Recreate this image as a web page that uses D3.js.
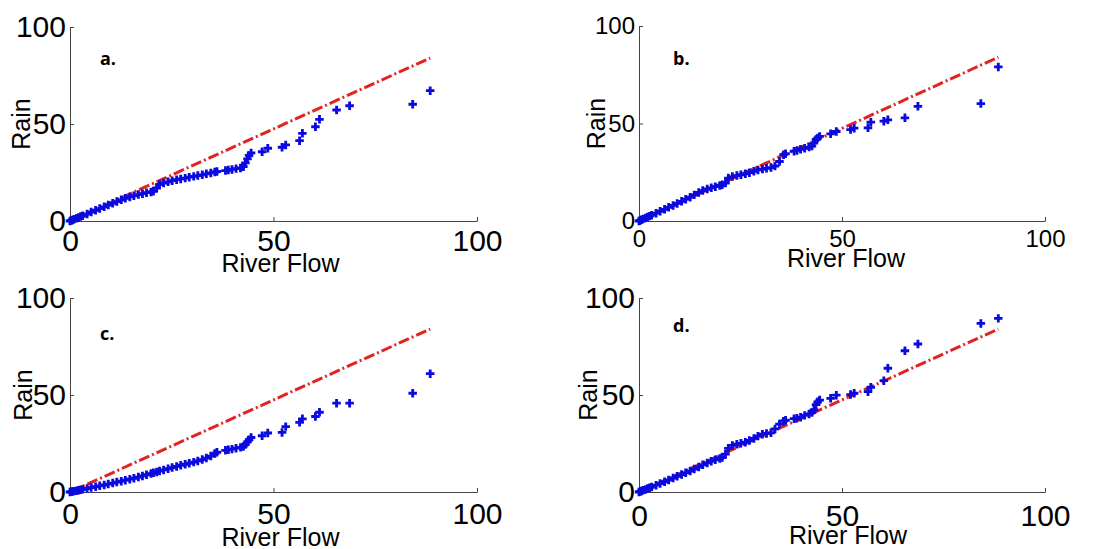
<!DOCTYPE html>
<meta charset="utf-8">
<style>

body {
  margin: 0;
  background: #fff;
}

.axis path,
.axis line {
  stroke: #444;
  stroke-width: 1;
}

.axis text {
  font-family: "Liberation Sans", Arial, sans-serif;
  fill: #000;
}

.label {
  font-family: "Liberation Sans", Arial, sans-serif;
  font-size: 25px;
  fill: #000;
}

.letter {
  font-family: "Open Sans", sans-serif;
  font-weight: bold;
  font-size: 18px;
  fill: #000;
}

.ref {
  fill: none;
  stroke: #e3231f;
  stroke-width: 3;
  stroke-dasharray: 11,3,2,3;
}

.pt {
  fill: #0a0ae0;
}

</style>
<svg width="1105" height="549"></svg>
<script src="https://d3js.org/d3.v7.min.js"></script>
<script>

// river flow quantiles (shared by all four panels)
var flow = [0, 0.3, 0.6, 1.0, 1.6, 2.1, 2.6, 3.1, 4.2, 5.2, 6.3, 7.3, 8.4, 9.4, 10.5, 11.5, 12.6, 13.6, 14.7, 15.7,
  16.8, 17.8, 18.8, 19.9, 20.5, 21.3, 22.0, 23.0, 24.1, 25.1, 26.2, 27.2, 28.3, 29.3, 30.4, 31.4, 32.5, 33.5, 34.6, 35.6,
  36.1, 38.2, 38.9, 39.8, 40.8, 41.9, 42.6, 43.1, 43.6, 44.0, 44.5,
  47.2, 48.6, 52.1, 53.0, 56.4, 57.1, 60.3, 61.3, 65.5, 68.7, 84.2, 88.5];

// rain quantiles, one list per panel
var rainA = [0, 0.3, 0.5, 0.9, 1.4, 1.8, 2.3, 2.7, 3.6, 4.6, 5.5, 6.4, 7.3, 8.2, 9.1, 10.0, 10.9, 11.7, 12.4, 13.0,
  13.6, 14.1, 14.6, 15.0, 15.3, 17.0, 18.8, 19.6, 20.2, 20.8, 21.3, 21.7, 22.1, 22.6, 23.0, 23.4, 23.8, 24.3, 24.8, 25.2,
  25.5, 26.0, 26.3, 26.6, 27.0, 27.3, 28.0, 30.0, 32.0, 33.8, 35.1,
  35.7, 37.5, 38.0, 39.2, 41.4, 45.2, 48.6, 52.4, 57.2, 59.4, 60.2, 67.2];

var rainB = [0, 0.3, 0.6, 1.0, 1.5, 2.0, 2.5, 3.0, 4.0, 5.0, 6.0, 7.0, 8.0, 9.0, 10.1, 11.2, 12.2, 13.4, 14.6, 15.6,
  16.4, 17.0, 17.6, 18.2, 18.6, 19.5, 22.0, 22.8, 23.3, 23.7, 24.2, 24.8, 25.5, 26.2, 26.6, 27.0, 27.4, 28.2, 30.5, 34.0,
  34.5, 35.8, 36.2, 36.8, 37.3, 37.9, 38.4, 40.0, 41.8, 42.6, 43.4,
  44.7, 45.9, 46.9, 47.6, 47.8, 50.7, 51.2, 51.9, 52.9, 58.8, 60.2, 79.0];

var rainC = [0, 0.1, 0.3, 0.45, 0.7, 0.9, 1.1, 1.35, 1.8, 2.3, 2.7, 3.2, 3.6, 4.1, 4.6, 5.1, 5.6, 6.1, 6.6, 7.1,
  7.7, 8.3, 8.9, 9.5, 9.9, 10.3, 10.8, 11.4, 12.0, 12.6, 13.2, 13.8, 14.3, 14.8, 15.4, 16.0, 16.7, 17.5, 18.5, 19.8,
  20.5, 21.5, 21.8, 22.1, 22.6, 23.0, 23.5, 24.5, 25.8, 27.0, 28.1,
  29.0, 30.4, 30.7, 33.7, 35.9, 37.7, 38.9, 41.1, 45.8, 45.8, 50.9, 61.0];

var rainD = [0, 0.3, 0.5, 0.9, 1.3, 1.8, 2.2, 2.6, 3.5, 4.4, 5.3, 6.2, 7.2, 8.1, 9.0, 9.9, 10.8, 11.8, 12.9, 14.0,
  15.0, 15.8, 16.6, 17.3, 17.8, 19.5, 22.5, 24.0, 24.6, 25.1, 25.7, 26.6, 27.6, 28.8, 29.8, 30.2, 30.5, 32.5, 35.0, 36.5,
  37.0, 37.8, 38.0, 38.5, 39.5, 40.2, 41.0, 42.3, 45.0, 46.5, 47.4,
  48.3, 49.9, 50.2, 50.9, 51.7, 54.0, 57.4, 63.8, 72.8, 76.3, 86.9, 89.5];

// dash-dot reference line end points (flow, rain)
var refFlow = [0, 88.5],
    refRain = [0, 84];

var series = [rainA, rainB, rainC, rainD];
var letters = ["a.", "b.", "c.", "d."];
var ticks = [0, 50, 100];
var xTitle = "River Flow",
    yTitle = "Rain";

// panel placement in pixels
var layout = [
  {left: 70,  right: 477,  top: 27,  bottom: 221, font: 30, pad: 9,  lx: 30, ly: 38, tx: 51, tdx: 7, ty: 40},
  {left: 639, right: 1045, top: 26,  bottom: 221, font: 24, pad: 9,  lx: 34, ly: 39, tx: 46, tdx: 4, ty: 34},
  {left: 70,  right: 477,  top: 298, bottom: 492, font: 30, pad: 11, lx: 30, ly: 42, tx: 54, tdx: 7, ty: 38},
  {left: 639, right: 1045, top: 298, bottom: 492, font: 30, pad: 13, lx: 34, ly: 34, tx: 52, tdx: 6, ty: 42}
];

var svg = d3.select("svg");
svg.append("rect").attr("width", 1105).attr("height", 549).attr("fill", "#fff");

var cross = d3.symbol().type(d3.symbolCross).size(40);

series.forEach(function(rain, i) {
  var p = layout[i];
  var x = d3.scaleLinear().domain([0, 100]).range([p.left, p.right]),
      y = d3.scaleLinear().domain([0, 100]).range([p.bottom, p.top]);

  var g = svg.append("g");

  g.append("g")
      .attr("class", "axis")
      .attr("transform", "translate(0," + p.bottom + ")")
      .call(d3.axisBottom(x).tickValues(ticks).tickSizeInner(-4).tickSizeOuter(0).tickPadding(p.pad))
      .selectAll("text").style("font-size", p.font + "px");

  g.append("g")
      .attr("class", "axis")
      .attr("transform", "translate(" + p.left + ",0)")
      .call(d3.axisLeft(y).tickValues(ticks).tickSizeInner(-4).tickSizeOuter(0).tickPadding(4))
      .selectAll("text").style("font-size", p.font + "px");

  // dash-dot reference line
  g.append("path")
      .attr("class", "ref")
      .attr("d", d3.line()
          .x(function(d, j) { return x(refFlow[j]); })
          .y(function(d) { return y(d); })(refRain));

  g.selectAll(".pt")
    .data(rain)
    .enter().append("path")
      .attr("class", "pt")
      .attr("d", cross)
      .attr("transform", function(d, j) { return "translate(" + x(flow[j]) + "," + y(d) + ")"; });

  g.append("text")
      .attr("class", "label")
      .attr("text-anchor", "middle")
      .attr("x", (p.left + p.right) / 2 + p.tdx)
      .attr("y", p.bottom + p.tx)
      .text(xTitle);

  g.append("text")
      .attr("class", "label")
      .attr("text-anchor", "middle")
      .attr("transform", "translate(" + (p.left - p.ty) + "," + ((p.top + p.bottom) / 2) + ") rotate(-90)")
      .text(yTitle);

  g.append("text")
      .attr("class", "letter")
      .attr("x", p.left + p.lx)
      .attr("y", p.top + p.ly)
      .text(letters[i]);
});

</script>
